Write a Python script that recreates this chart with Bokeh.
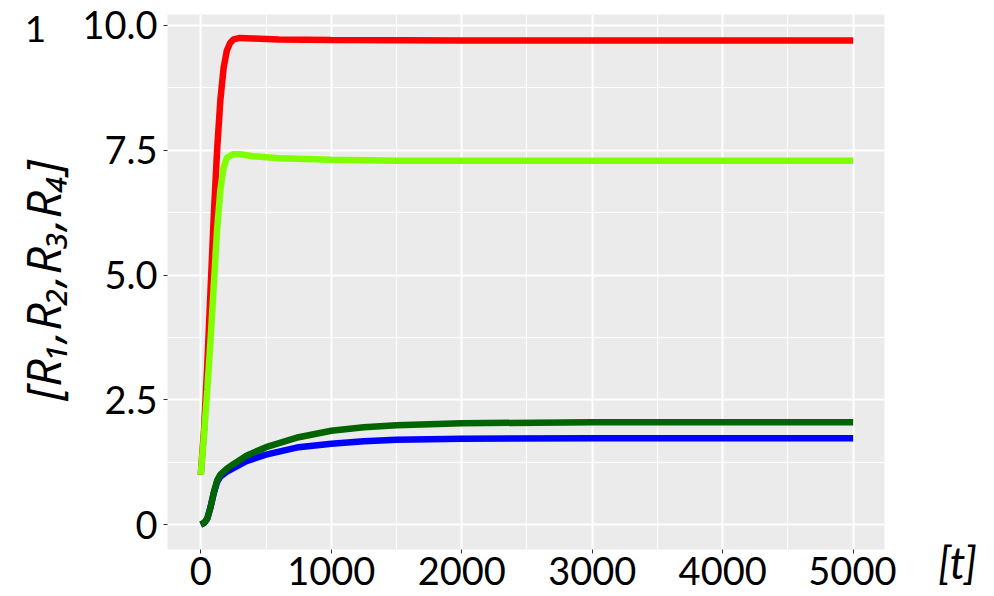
from bokeh.plotting import figure
from bokeh.models import Range1d, FixedTicker
from bokeh.layouts import row
from bokeh.core.properties import value
from bokeh.embed import file_html
from bokeh.resources import INLINE
import math

# time points and series values
t_r1 = [0, 25, 50, 75, 100, 125, 150, 175, 200, 225, 250, 300, 400, 600, 1000, 2000, 3000, 5000]
r1 = [1.0, 1.9, 3.2, 4.7, 6.2, 7.5, 8.5, 9.15, 9.5, 9.65, 9.72, 9.75, 9.74, 9.72, 9.71, 9.70, 9.70, 9.70]

t_r2 = [0, 25, 50, 75, 100, 125, 150, 175, 200, 250, 300, 400, 600, 1000, 1500, 2000, 5000]
r2 = [1.0, 1.8, 2.7, 3.7, 4.8, 5.9, 6.7, 7.15, 7.35, 7.42, 7.42, 7.38, 7.34, 7.31, 7.29, 7.29, 7.29]

t_r3 = [0, 25, 50, 75, 100, 125, 150, 200, 250, 350, 500, 750, 1000, 1250, 1500, 2000, 3000, 4000, 5000]
r3 = [0.0, 0.03, 0.12, 0.35, 0.63, 0.85, 0.96, 1.06, 1.13, 1.27, 1.40, 1.55, 1.62, 1.67, 1.70, 1.72, 1.73, 1.73, 1.73]

t_r4 = [0, 25, 50, 75, 100, 125, 150, 200, 250, 350, 500, 750, 1000, 1250, 1500, 2000, 3000, 4000, 5000]
r4 = [0.0, 0.03, 0.12, 0.35, 0.65, 0.88, 1.0, 1.12, 1.21, 1.38, 1.55, 1.75, 1.88, 1.95, 1.99, 2.03, 2.05, 2.05, 2.05]

x_ticks = [0, 1000, 2000, 3000, 4000, 5000]
x_minor = [500, 1500, 2500, 3500, 4500]
y_ticks = [0, 2.5, 5.0, 7.5, 10.0]
y_tick_labels = ["0", "2.5", "5.0", "7.5", "10.0"]
y_minor = [1.25, 3.75, 6.25, 8.75]

y_title = "[R\u2081,R\u2082,R\u2083,R\u2084]"
x_title = "[t]"
panel_tag = "1"

FONT = "Lato"
TITLE_FONT = "Open Sans"
H = 596
LEFT_W = 76
MAIN_W = 820
RIGHT_W = 994 - LEFT_W - MAIN_W
FRAME_TOP, FRAME_BOTTOM = 14, 549

# ---- main plot ----
p = figure(width=MAIN_W, height=H, output_backend="svg", toolbar_location=None,
           x_range=Range1d(-255, 5240), y_range=Range1d(-0.5, 10.22),
           min_border_left=91, min_border_right=12,
           min_border_top=FRAME_TOP, min_border_bottom=H - FRAME_BOTTOM)
p.background_fill_color = "#EBEBEB"
p.border_fill_color = "white"
p.outline_line_color = None

for ax in (p.xaxis, p.yaxis):
    ax.axis_line_color = None
    ax.major_tick_in = 0
    ax.major_tick_out = 4
    ax.major_tick_line_color = "#333333"
    ax.minor_tick_line_color = None
    ax.major_label_text_font = FONT
    ax.major_label_text_font_size = "38px"
    ax.major_label_text_color = "black"

p.xaxis.ticker = FixedTicker(ticks=x_ticks, minor_ticks=x_minor)
p.yaxis.ticker = FixedTicker(ticks=y_ticks, minor_ticks=y_minor)
p.yaxis.major_label_overrides = {k: v for k, v in zip(y_ticks, y_tick_labels)}
p.xaxis.major_label_standoff = 3
p.yaxis.major_label_standoff = 6

for g in (p.xgrid, p.ygrid):
    g.grid_line_color = "white"
    g.grid_line_width = 2
    g.minor_grid_line_color = "white"
    g.minor_grid_line_width = 1

p.line(t_r1, r1, line_color="#FF0000", line_width=6.5)
p.line(t_r2, r2, line_color="#7FFF00", line_width=6.5)
p.line(t_r3, r3, line_color="#0000FF", line_width=6.5)
p.line(t_r4, r4, line_color="#006400", line_width=6.5)


def strip(width, **kw):
    # a white side strip; its frame lines up with the main frame (row aligns frames),
    # and its y range is given in page pixels (top to bottom)
    f = figure(width=width, height=H, output_backend="svg", toolbar_location=None,
               x_range=Range1d(0, width), y_range=Range1d(FRAME_BOTTOM, FRAME_TOP),
               min_border_top=FRAME_TOP, min_border_bottom=H - FRAME_BOTTOM, **kw)
    f.grid.visible = False
    f.outline_line_color = None
    f.background_fill_color = "white"
    f.border_fill_color = "white"
    return f


# ---- left strip: panel tag and y title ----
left = strip(LEFT_W, min_border_left=0, min_border_right=0,
             x_axis_location=None, y_axis_location=None)
left.text(x=[35], y=[28], text=[panel_tag], text_font=value(FONT),
          text_font_size="37px", text_align="center", text_baseline="middle",
          text_color="black")
left.text(x=[42], y=[280], text=[y_title], text_font=value(TITLE_FONT),
          text_font_style="italic", text_font_size="48px", angle=math.pi / 2,
          text_align="center", text_baseline="middle", text_color="black")

# ---- right strip: x title as an axis label below its frame ----
right = strip(RIGHT_W, min_border_left=24, min_border_right=0, y_axis_location=None)
right.xaxis.ticker = FixedTicker(ticks=[])
right.xaxis.axis_line_color = None
right.xaxis.major_tick_out = 0
right.xaxis.major_tick_in = 0
right.xaxis.minor_tick_line_color = None
right.xaxis.major_label_standoff = 0
right.xaxis.axis_label = x_title
right.xaxis.axis_label_text_font = FONT
right.xaxis.axis_label_text_font_style = "italic"
right.xaxis.axis_label_text_font_size = "44px"
right.xaxis.axis_label_text_color = "black"
right.xaxis.axis_label_standoff = -14

layout = row(left, p, right, spacing=0)
open("out.html", "w").write(file_html(layout, INLINE))
